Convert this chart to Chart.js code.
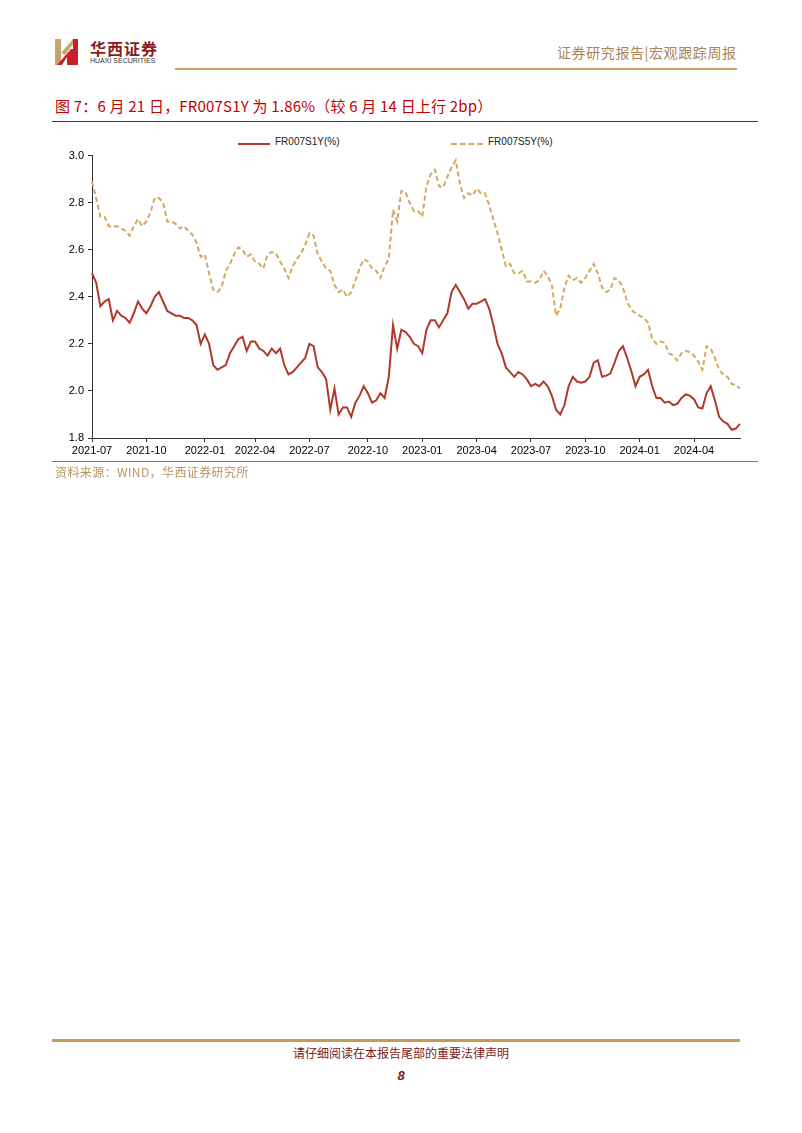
<!DOCTYPE html>
<html>
<head>
<meta charset="utf-8">
<script src="https://cdn.jsdelivr.net/npm/chart.js@4.4.1/dist/chart.umd.min.js"></script>
<style>
  body { margin: 0; background: #fff; width: 802px; height: 1133px; position: relative; overflow: hidden; font-family: "Noto Sans CJK SC", "Liberation Sans", sans-serif; }
  .abs { position: absolute; }
  #brand { left: 90px; top: 36px; font-size: 16px; font-weight: bold; color: #8c1c1c; letter-spacing: 1px; }
  #brandEn { left: 90px; top: 57px; font-size: 7px; color: #333; font-family: "Liberation Sans", sans-serif; }
  #rightHead { left: 557px; top: 42px; font-size: 14px; color: #a98458; letter-spacing: 0.6px; }
  #goldTop { left: 175px; top: 68px; width: 562px; height: 2px; background: #c9a266; }
  #title { left: 55px; top: 95px; font-size: 15px; color: #c00000; white-space: nowrap; letter-spacing: 0.2px; }
  #redTop { left: 52px; top: 121px; width: 706px; height: 1px; background: #c00000; }
  #legend { left: 238px; top: 136px; font-size: 10px; font-family: "Liberation Sans", Arial, sans-serif; color: #222; }
  .leg { position: absolute; top: 0; white-space: nowrap; }
  .leg span.ln { position: absolute; top: 7px; width: 32px; height: 0; }
  .leg span.tx { position: absolute; left: 37px; top: 0; }
  #redBottom { left: 52px; top: 461px; width: 706px; height: 1px; background: #d05050; }
  #source { left: 55px; top: 463px; font-size: 12px; color: #b89460; letter-spacing: 0.4px; }
  #goldFoot { left: 52px; top: 1039px; width: 688px; height: 3px; background: #c39a5a; }
  #footNote { left: 0; width: 802px; top: 1044px; text-align: center; font-size: 12px; color: #7a2020; }
  #page { left: 0; width: 802px; top: 1068px; text-align: center; font-size: 13px; font-weight: bold; font-style: italic; color: #7a2020; font-family: "Liberation Sans", sans-serif; }
  #wrap { left: 40px; top: 145px; width: 715px; height: 320px; }
</style>
</head>
<body>
<svg class="abs" style="left:54px;top:37px" width="26" height="30" viewBox="0 0 26 30">
  <rect x="1" y="2" width="6" height="26" fill="#c8a46c"/>
  <polygon points="7,16 19,2 23,2 11,18" fill="#c8a46c"/>
  <polygon points="3,28 17,12 19,12 19,28 13,28 13,20 8,28" fill="#c8202a"/>
  <rect x="19" y="2" width="5" height="26" fill="#c8202a"/>
</svg>
<div id="brand" class="abs">华西证券</div>
<div id="brandEn" class="abs">HUAXI SECURITIES</div>
<div id="rightHead" class="abs">证券研究报告|宏观跟踪周报</div>
<div id="goldTop" class="abs"></div>
<div id="title" class="abs">图 7：6 月 21 日，FR007S1Y 为 1.86%（较 6 月 14 日上行 2bp）</div>
<div id="redTop" class="abs"></div>

<div id="legend" class="abs">
  <div class="leg" style="left:0"><span class="ln" style="border-top:2px solid #b0392c"></span><span class="tx">FR007S1Y(%)</span></div>
  <div class="leg" style="left:213px"><span class="ln" style="border-top:2px dashed #d4a862"></span><span class="tx">FR007S5Y(%)</span></div>
</div>

<div id="wrap" class="abs"><canvas id="grafico"></canvas></div>

<div id="redBottom" class="abs"></div>
<div id="source" class="abs">资料来源：WIND，华西证券研究所</div>
<div id="goldFoot" class="abs"></div>
<div id="footNote" class="abs">请仔细阅读在本报告尾部的重要法律声明</div>
<div id="page" class="abs">8</div>

<script>
// weekly observations, first Friday 2021-07-02 to 2024-06-21
const primeiraSemana = "2021-07-02";
const totalSemanas = 156;

const ticksX = ["2021-07", "2021-10", "2022-01", "2022-04", "2022-07", "2022-10",
    "2023-01", "2023-04", "2023-07", "2023-10", "2024-01", "2024-04"];
const ticksY = [1.8, 2.0, 2.2, 2.4, 2.6, 2.8, 3.0];

const fr007s1y = [
    2.50, 2.46, 2.36, 2.38, 2.39, 2.30, 2.34, 2.32, 2.31, 2.29,
    2.33, 2.38, 2.35, 2.33, 2.36, 2.40, 2.42, 2.38, 2.34, 2.33,
    2.32, 2.32, 2.31, 2.31, 2.30, 2.28, 2.20, 2.24, 2.20, 2.11,
    2.09, 2.10, 2.11, 2.16, 2.19, 2.22, 2.23, 2.17, 2.21, 2.21,
    2.18, 2.17, 2.15, 2.18, 2.16, 2.18, 2.11, 2.07, 2.08, 2.10,
    2.12, 2.14, 2.20, 2.19, 2.10, 2.08, 2.05, 1.92, 2.01, 1.90,
    1.93, 1.93, 1.89, 1.95, 1.98, 2.02, 1.99, 1.95, 1.96, 1.99,
    1.97, 2.06, 2.28, 2.18, 2.26, 2.25, 2.23, 2.20, 2.19, 2.16,
    2.26, 2.30, 2.30, 2.27, 2.30, 2.33, 2.42, 2.45, 2.42, 2.39,
    2.35, 2.37, 2.37, 2.38, 2.39, 2.35, 2.28, 2.20, 2.16, 2.10,
    2.08, 2.06, 2.08, 2.07, 2.05, 2.02, 2.03, 2.02, 2.04, 2.02,
    1.98, 1.92, 1.90, 1.94, 2.02, 2.06, 2.04, 2.035, 2.04, 2.06,
    2.12, 2.13, 2.06, 2.065, 2.075, 2.12, 2.17, 2.19, 2.14, 2.085,
    2.02, 2.06, 2.07, 2.09, 2.02, 1.97, 1.97, 1.95, 1.955, 1.94,
    1.945, 1.97, 1.985, 1.98, 1.965, 1.93, 1.925, 1.99, 2.02, 1.96,
    1.89, 1.87, 1.86, 1.835, 1.84, 1.86
];

const fr007s5y = [
    2.89, 2.82, 2.74, 2.74, 2.70, 2.70, 2.70, 2.69, 2.68, 2.66,
    2.70, 2.73, 2.70, 2.72, 2.76, 2.82, 2.82, 2.80, 2.72, 2.72,
    2.71, 2.69, 2.70, 2.68, 2.665, 2.63, 2.57, 2.58, 2.50, 2.43,
    2.42, 2.44, 2.51, 2.54, 2.58, 2.61, 2.60, 2.57, 2.58, 2.55,
    2.54, 2.52, 2.58, 2.59, 2.585, 2.55, 2.52, 2.48, 2.53, 2.56,
    2.585, 2.62, 2.67, 2.66, 2.58, 2.55, 2.52, 2.51, 2.45, 2.42,
    2.43, 2.40, 2.42, 2.47, 2.52, 2.56, 2.55, 2.52, 2.51, 2.48,
    2.53, 2.56, 2.77, 2.72, 2.85, 2.845, 2.80, 2.765, 2.765, 2.74,
    2.87, 2.92, 2.94, 2.87, 2.865, 2.91, 2.95, 2.98, 2.88, 2.82,
    2.84, 2.83, 2.86, 2.84, 2.84, 2.79, 2.73, 2.67, 2.60, 2.53,
    2.54, 2.50, 2.50, 2.51, 2.465, 2.465, 2.46, 2.47, 2.51, 2.49,
    2.45, 2.32, 2.35, 2.44, 2.49, 2.47, 2.48, 2.46, 2.48, 2.51,
    2.54, 2.50, 2.44, 2.42, 2.43, 2.48, 2.47, 2.44, 2.38, 2.345,
    2.33, 2.32, 2.31, 2.29, 2.22, 2.20, 2.21, 2.205, 2.16, 2.15,
    2.13, 2.16, 2.17, 2.165, 2.15, 2.125, 2.09, 2.19, 2.18, 2.14,
    2.09, 2.07, 2.06, 2.03, 2.025, 2.01
];

function montaDatas() {
    const datas = [];
    const d = new Date(primeiraSemana + "T00:00:00Z");
    for (let i = 0; i < totalSemanas; i++) {
        datas.push(d.toISOString().slice(0, 10));
        d.setUTCDate(d.getUTCDate() + 7);
    }
    return datas;
}

const datas = montaDatas();

function grafico() {
    const ctx = document.getElementById("grafico").getContext("2d");
    const fonte = { family: "'Liberation Sans', Arial, sans-serif", size: 11 };

    new Chart(ctx, {
        type: "line",
        data: {
            labels: datas,
            datasets: [
                {
                    label: "FR007S1Y(%)",
                    data: fr007s1y,
                    borderColor: "#b0392c",
                    borderWidth: 2,
                    pointRadius: 0,
                    tension: 0,
                },
                {
                    label: "FR007S5Y(%)",
                    data: fr007s5y,
                    borderColor: "#d4a862",
                    borderWidth: 2,
                    borderDash: [5, 3],
                    pointRadius: 0,
                    tension: 0,
                },
            ],
        },
        options: {
            responsive: true,
            maintainAspectRatio: false,
            animation: false,
            layout: { padding: { top: 10, right: 15, left: 0, bottom: 0 } },
            plugins: { legend: { display: false }, tooltip: { enabled: false } },
            scales: {
                x: {
                    type: "category",
                    offset: false,
                    afterBuildTicks: scale => {
                        const vistos = new Set();
                        scale.ticks = scale.ticks.filter(t => {
                            const mes = datas[t.value].slice(0, 7);
                            if (!ticksX.includes(mes) || vistos.has(mes)) return false;
                            vistos.add(mes);
                            return true;
                        });
                    },
                    afterFit: scale => { scale.height = 27; },
                    ticks: {
                        autoSkip: false,
                        maxRotation: 0,
                        color: "#000",
                        font: fonte,
                        padding: 2,
                        callback: value => datas[value].slice(0, 7),
                    },
                    grid: { drawOnChartArea: false, tickLength: 4, color: "#333" },
                    border: { color: "#333", width: 1 },
                },
                y: {
                    min: 1.8,
                    max: 3.0,
                    afterBuildTicks: scale => {
                        scale.ticks = ticksY.map(v => ({ value: v }));
                    },
                    afterFit: scale => { scale.width = 52; },
                    ticks: {
                        color: "#000",
                        font: fonte,
                        padding: 4,
                        callback: v => v.toFixed(1),
                    },
                    grid: { drawOnChartArea: false, tickLength: 4, color: "#333" },
                    border: { color: "#333", width: 1 },
                },
            },
        },
    });
}

grafico();
</script>
</body>
</html>
